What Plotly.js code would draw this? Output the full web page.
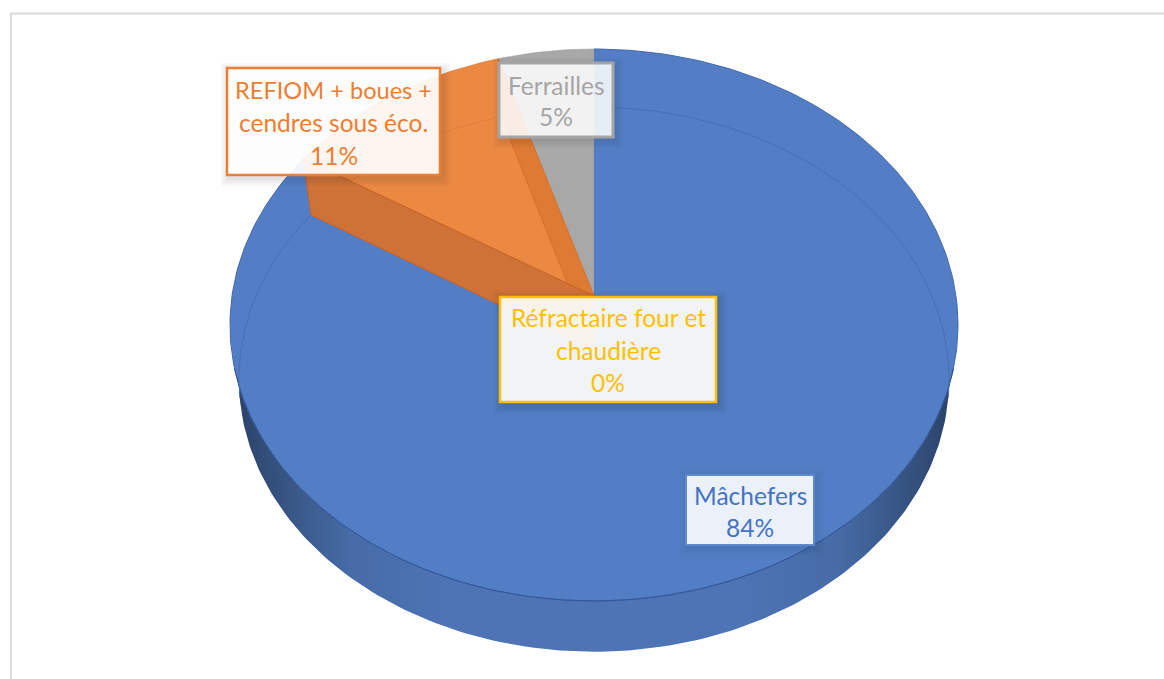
<!DOCTYPE html>
<html>
<head>
<meta charset="utf-8">
<script src="https://cdn.plot.ly/plotly-3.0.1.min.js"></script>
<style>html,body{margin:0;padding:0;background:#fff;overflow:hidden}#chart{width:1164px;height:679px}</style>
</head>
<body>
<div id="chart"></div>
<script>
// Data
const categories = ["Mâchefers", "Réfractaire four et chaudière", "REFIOM + boues + cendres sous éco.", "Ferrailles"];
const shares = [83.9, 0, 11.4, 4.7];
const sliceColors = ["#537EC6", "#FFC000", "#EB8842", "#A8A8A8"];
const textColors = ["#4472C4", "#FFC000", "#ED7D31", "#A5A5A5"];

// Text split in lines as in the data labels
const labelLines = [["Mâchefers"], ["Réfractaire four et", "chaudière"], ["REFIOM + boues +", "cendres sous éco."], ["Ferrailles"]];

// Perspective view of the disc: unit-circle angle -> page coordinates
const topDisc = {cx: 594, R: 362, a: -241.85, b: 296, c: 0.105};
const baseDisc = {cx: 594, R: 353, a: -231.3, b: 350, c: 0.108};
function project(disc, deg) {
  const t = deg * Math.PI / 180, u = Math.sin(t), v = Math.cos(t), d = disc.c * v + 1;
  return [disc.cx + disc.R * u / d, (disc.a * v + disc.b) / d];
}
function arc(disc, from, to) {
  const pts = [], n = Math.max(2, Math.ceil(Math.abs(to - from)));
  for (let i = 0; i <= n; i++) pts.push(project(disc, from + (to - from) * i / n));
  return pts;
}
function poly(pts, fill, lineColor, lineWidth, extra) {
  return Object.assign({
    type: "scatter", mode: "lines", x: pts.map(p => p[0]), y: pts.map(p => p[1]),
    fill: fill ? "toself" : "none", fillcolor: fill || undefined,
    line: {color: lineColor, width: lineWidth}, hoverinfo: "skip", showlegend: false
  }, extra || {});
}

// Slice boundaries, clockwise from 12 o'clock, from the shares
const total = shares.reduce((s, v) => s + v, 0);
const bounds = [0];
shares.forEach(v => bounds.push(bounds[bounds.length - 1] + v / total * 360));
const apexT = [topDisc.cx, topDisc.b], apexB = [baseDisc.cx, baseDisc.b];
const startOrange = bounds[2], endOrange = bounds[3], startGrey = bounds[3];

const traces = [];
// front wall
const wall = arc(baseDisc, 95, 265).concat(arc(topDisc, 255, 105));
wall.push(wall[0]);
traces.push(poly(wall, "#4F75B8", "rgba(0,0,0,0)", 0, {
  fillgradient: {type: "horizontal", colorscale: [
    [0, "#2B4269"], [0.06, "#35527F"], [0.16, "#466BA6"], [0.3, "#4E74B6"],
    [0.7, "#4E74B6"], [0.84, "#466BA6"], [0.94, "#35527F"], [1, "#2B4269"]]}
}));
// main slice
const blue = [apexT].concat(arc(topDisc, bounds[0], bounds[1])).concat([apexT]);
traces.push(poly(blue, sliceColors[0], "#4268AC", 1));
traces.push(poly(arc(topDisc, 105, 255), null, "#2F5597", 1));
// base ring seen through the top
traces.push(poly(arc(baseDisc, 0, 100), null, "#476EB4", 1));
traces.push(poly(arc(baseDisc, 260, startOrange), null, "#476EB4", 1));
// grey slice
const grey = [apexT].concat(arc(topDisc, startGrey, 360)).concat([apexT]);
traces.push(poly(grey, sliceColors[3], "#9A9A9A", 0.5));
// orange slice and its two cut faces
const orange = [apexT].concat(arc(topDisc, startOrange, endOrange)).concat([apexT]);
traces.push(poly(orange, sliceColors[2], "#E2772E", 0.5));
traces.push(poly(arc(baseDisc, startOrange, endOrange), null, "#DF7F3C", 1));
const faceEnd = [apexT, project(topDisc, endOrange), project(baseDisc, endOrange), apexB, apexT];
traces.push(poly(faceEnd, "#DE7A33", "#D2691F", 0.7));
const faceStart = [apexT, project(topDisc, startOrange), project(baseDisc, startOrange), apexB, apexT];
traces.push(poly(faceStart, "#CF7238", "#C9621F", 1));

// Label boxes and the y of each text line
const boxes = [
  {i: 0, x0: 686, x1: 814, y0: 475, y1: 545, ys: [495, 527], bg: "#ECF1F9", lw: 2, border: "#6288CC", sh: 0.05},
  {i: 1, x0: 500, x1: 716, y0: 297, y1: 402, ys: [317, 350, 382], bg: "rgba(253,252,250,0.94)", lw: 2.5, border: "#FFC000", sh: 0.12},
  {i: 2, x0: 227, x1: 440, y0: 68, y1: 175, ys: [90, 122, 155], bg: "rgba(255,255,255,0.92)", lw: 2.5, border: "#ED7D31", sh: 0.09},
  {i: 3, x0: 499, x1: 613, y0: 63, y1: 137, ys: [85, 116], bg: "rgba(255,255,255,0.87)", lw: 3, border: "#A5A5A5", sh: 0.08}
];
const shapes = [
  {type: "line", xref: "x", yref: "y", x0: 10, x1: 1164, y0: 13.5, y1: 13.5, line: {color: "#D9D9D9", width: 2}, layer: "below"},
  {type: "line", xref: "x", yref: "y", x0: 11, x1: 11, y0: 13, y1: 679, line: {color: "#DDDDDD", width: 2}, layer: "below"}
];
const annotations = [];
boxes.forEach(b => {
  [8, 6, 4, 2].forEach(g => shapes.push({
    type: "rect", xref: "x", yref: "y", layer: "above",
    x0: b.x0 + 2 - g, x1: b.x1 + 2 + g, y0: b.y0 + 3 - g, y1: b.y1 + 3 + g,
    fillcolor: "rgba(30,30,30," + (b.sh / 3) + ")", line: {width: 0}
  }));
  shapes.push({
    type: "rect", xref: "x", yref: "y", layer: "above",
    x0: b.x0, x1: b.x1, y0: b.y0, y1: b.y1,
    fillcolor: b.bg, line: {color: b.border, width: b.lw}
  });
  const lines = labelLines[b.i].concat([Math.round(shares[b.i] / total * 100) + "%"]);
  lines.forEach((t, k) => annotations.push({
    xref: "x", yref: "y", x: (b.x0 + b.x1) / 2, y: b.ys[k], text: t, showarrow: false,
    xanchor: "center", yanchor: "middle", borderpad: 0,
    font: {family: "Lato, Carlito, sans-serif", size: t === "REFIOM + boues +" ? 23.6 : 24.5, color: textColors[b.i]}
  }));
});

Plotly.newPlot("chart", traces, {
  width: 1164, height: 679, margin: {l: 0, r: 0, t: 0, b: 0},
  paper_bgcolor: "#fff", plot_bgcolor: "#fff", showlegend: false,
  xaxis: {range: [0, 1164], visible: false, fixedrange: true},
  yaxis: {range: [679, 0], visible: false, fixedrange: true},
  shapes: shapes, annotations: annotations
}, {displayModeBar: false, staticPlot: true});
</script>
</body>
</html>
